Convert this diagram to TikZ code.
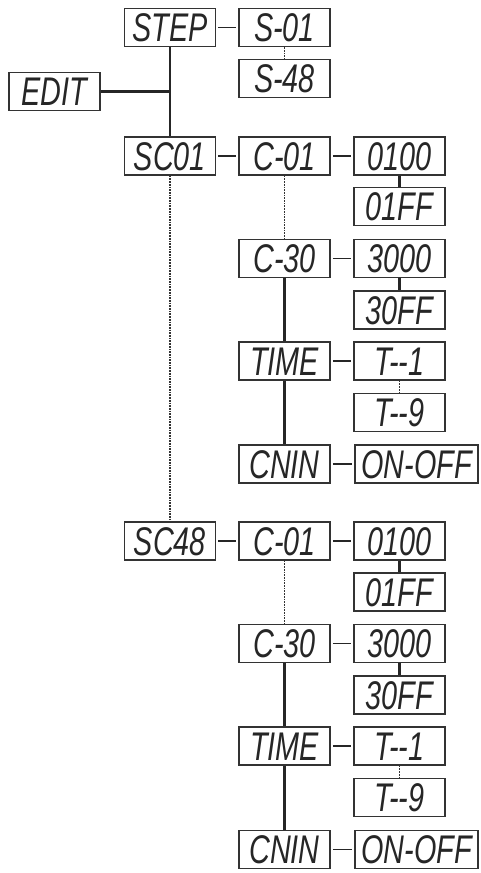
\documentclass[tikz,border=0pt]{standalone}
\usepackage{fontspec}
\usepackage{tikz}
\newfontfamily\lcd{Liberation Sans}[FakeStretch=0.72]

\begin{document}
\begin{tikzpicture}[x=1pt,y=-1pt,
	box/.style={shape=rectangle,draw=black!80,line width=1.5pt,minimum width=91pt,minimum height=38pt,inner sep=0pt,
		font=\fontsize{40}{44}\selectfont\lcd\itshape,text height=28.5pt,text depth=0pt,text=black!85},
	wide/.style={box,minimum width=123pt},
	thk/.style={line width=2.2pt,black!85},
	thn/.style={line width=1.2pt,black!85,shorten <=2pt,shorten >=2pt},
	dot/.style={line width=1.7pt,black!80,densely dotted}]
	\useasboundingbox (0,0) rectangle (481,873);
	% upper part
	\node[box](a) at (170,27.5) {STEP};
	\node[box](b) at (284.5,27.5) {S-01};
	\node[box](c) at (284.5,78.5) {S-48};
	\node[box](d) at (54.5,91.5) {EDIT};
	\coordinate (j) at (170,91.5);
	% first scene
	\node[box](e) at (170,156) {SC01};
	\node[box](f) at (284.5,156) {C-01};
	\node[box](g) at (399.5,156) {0100};
	\node[box](h) at (399.5,206.5) {01FF};
	\node[box](i) at (284.5,258.5) {C-30};
	\node[box](k) at (399.5,258.5) {3000};
	\node[box](l) at (399.5,310) {30FF};
	\node[box](m) at (284.5,361) {TIME};
	\node[box](n) at (399.5,361) {T--1};
	\node[box](o) at (399.5,412.5) {T--9};
	\node[box](p) at (284.5,464) {CNIN};
	\node[wide](q) at (416.5,464) {ON-OFF};
	% last scene
	\node[box](e2) at (170,541) {SC48};
	\node[box](f2) at (284.5,541) {C-01};
	\node[box](g2) at (399.5,541) {0100};
	\node[box](h2) at (399.5,592) {01FF};
	\node[box](i2) at (284.5,643.5) {C-30};
	\node[box](k2) at (399.5,643.5) {3000};
	\node[box](l2) at (399.5,695) {30FF};
	\node[box](m2) at (284.5,746) {TIME};
	\node[box](n2) at (399.5,746) {T--1};
	\node[box](o2) at (399.5,797.5) {T--9};
	\node[box](p2) at (284.5,849.5) {CNIN};
	\node[wide](q2) at (416.5,849.5) {ON-OFF};
	% connectors
	\draw[thk] (a) -- (e);
	\draw[thk] (d) -- (j);
	\draw[thn] (a) -- (b);
	\draw[dot] (b) -- (c);
	\draw[thk,shorten <=2pt,shorten >=2pt] (e) -- (f);
	\draw[thk,shorten <=2pt,shorten >=2pt] (f) -- (g);
	\draw[thk] (g) -- (h);
	\draw[dot] (f) -- (i);
	\draw[thn] (i) -- (k);
	\draw[thk] (k) -- (l);
	\draw[thk] (i) -- (m);
	\draw[thn] (m) -- (n);
	\draw[dot] (n) -- (o);
	\draw[thk] (m) -- (p);
	\draw[thn] (p) -- (q);
	\draw[dot] (e) -- (e2);
	\draw[thn] (e2) -- (f2);
	\draw[thn] (f2) -- (g2);
	\draw[thk] (g2) -- (h2);
	\draw[dot] (f2) -- (i2);
	\draw[thn] (i2) -- (k2);
	\draw[thk] (k2) -- (l2);
	\draw[thk] (i2) -- (m2);
	\draw[thk,shorten <=2pt,shorten >=2pt] (m2) -- (n2);
	\draw[dot] (n2) -- (o2);
	\draw[thk] (m2) -- (p2);
	\draw[thn] (p2) -- (q2);
\end{tikzpicture}
\end{document}
